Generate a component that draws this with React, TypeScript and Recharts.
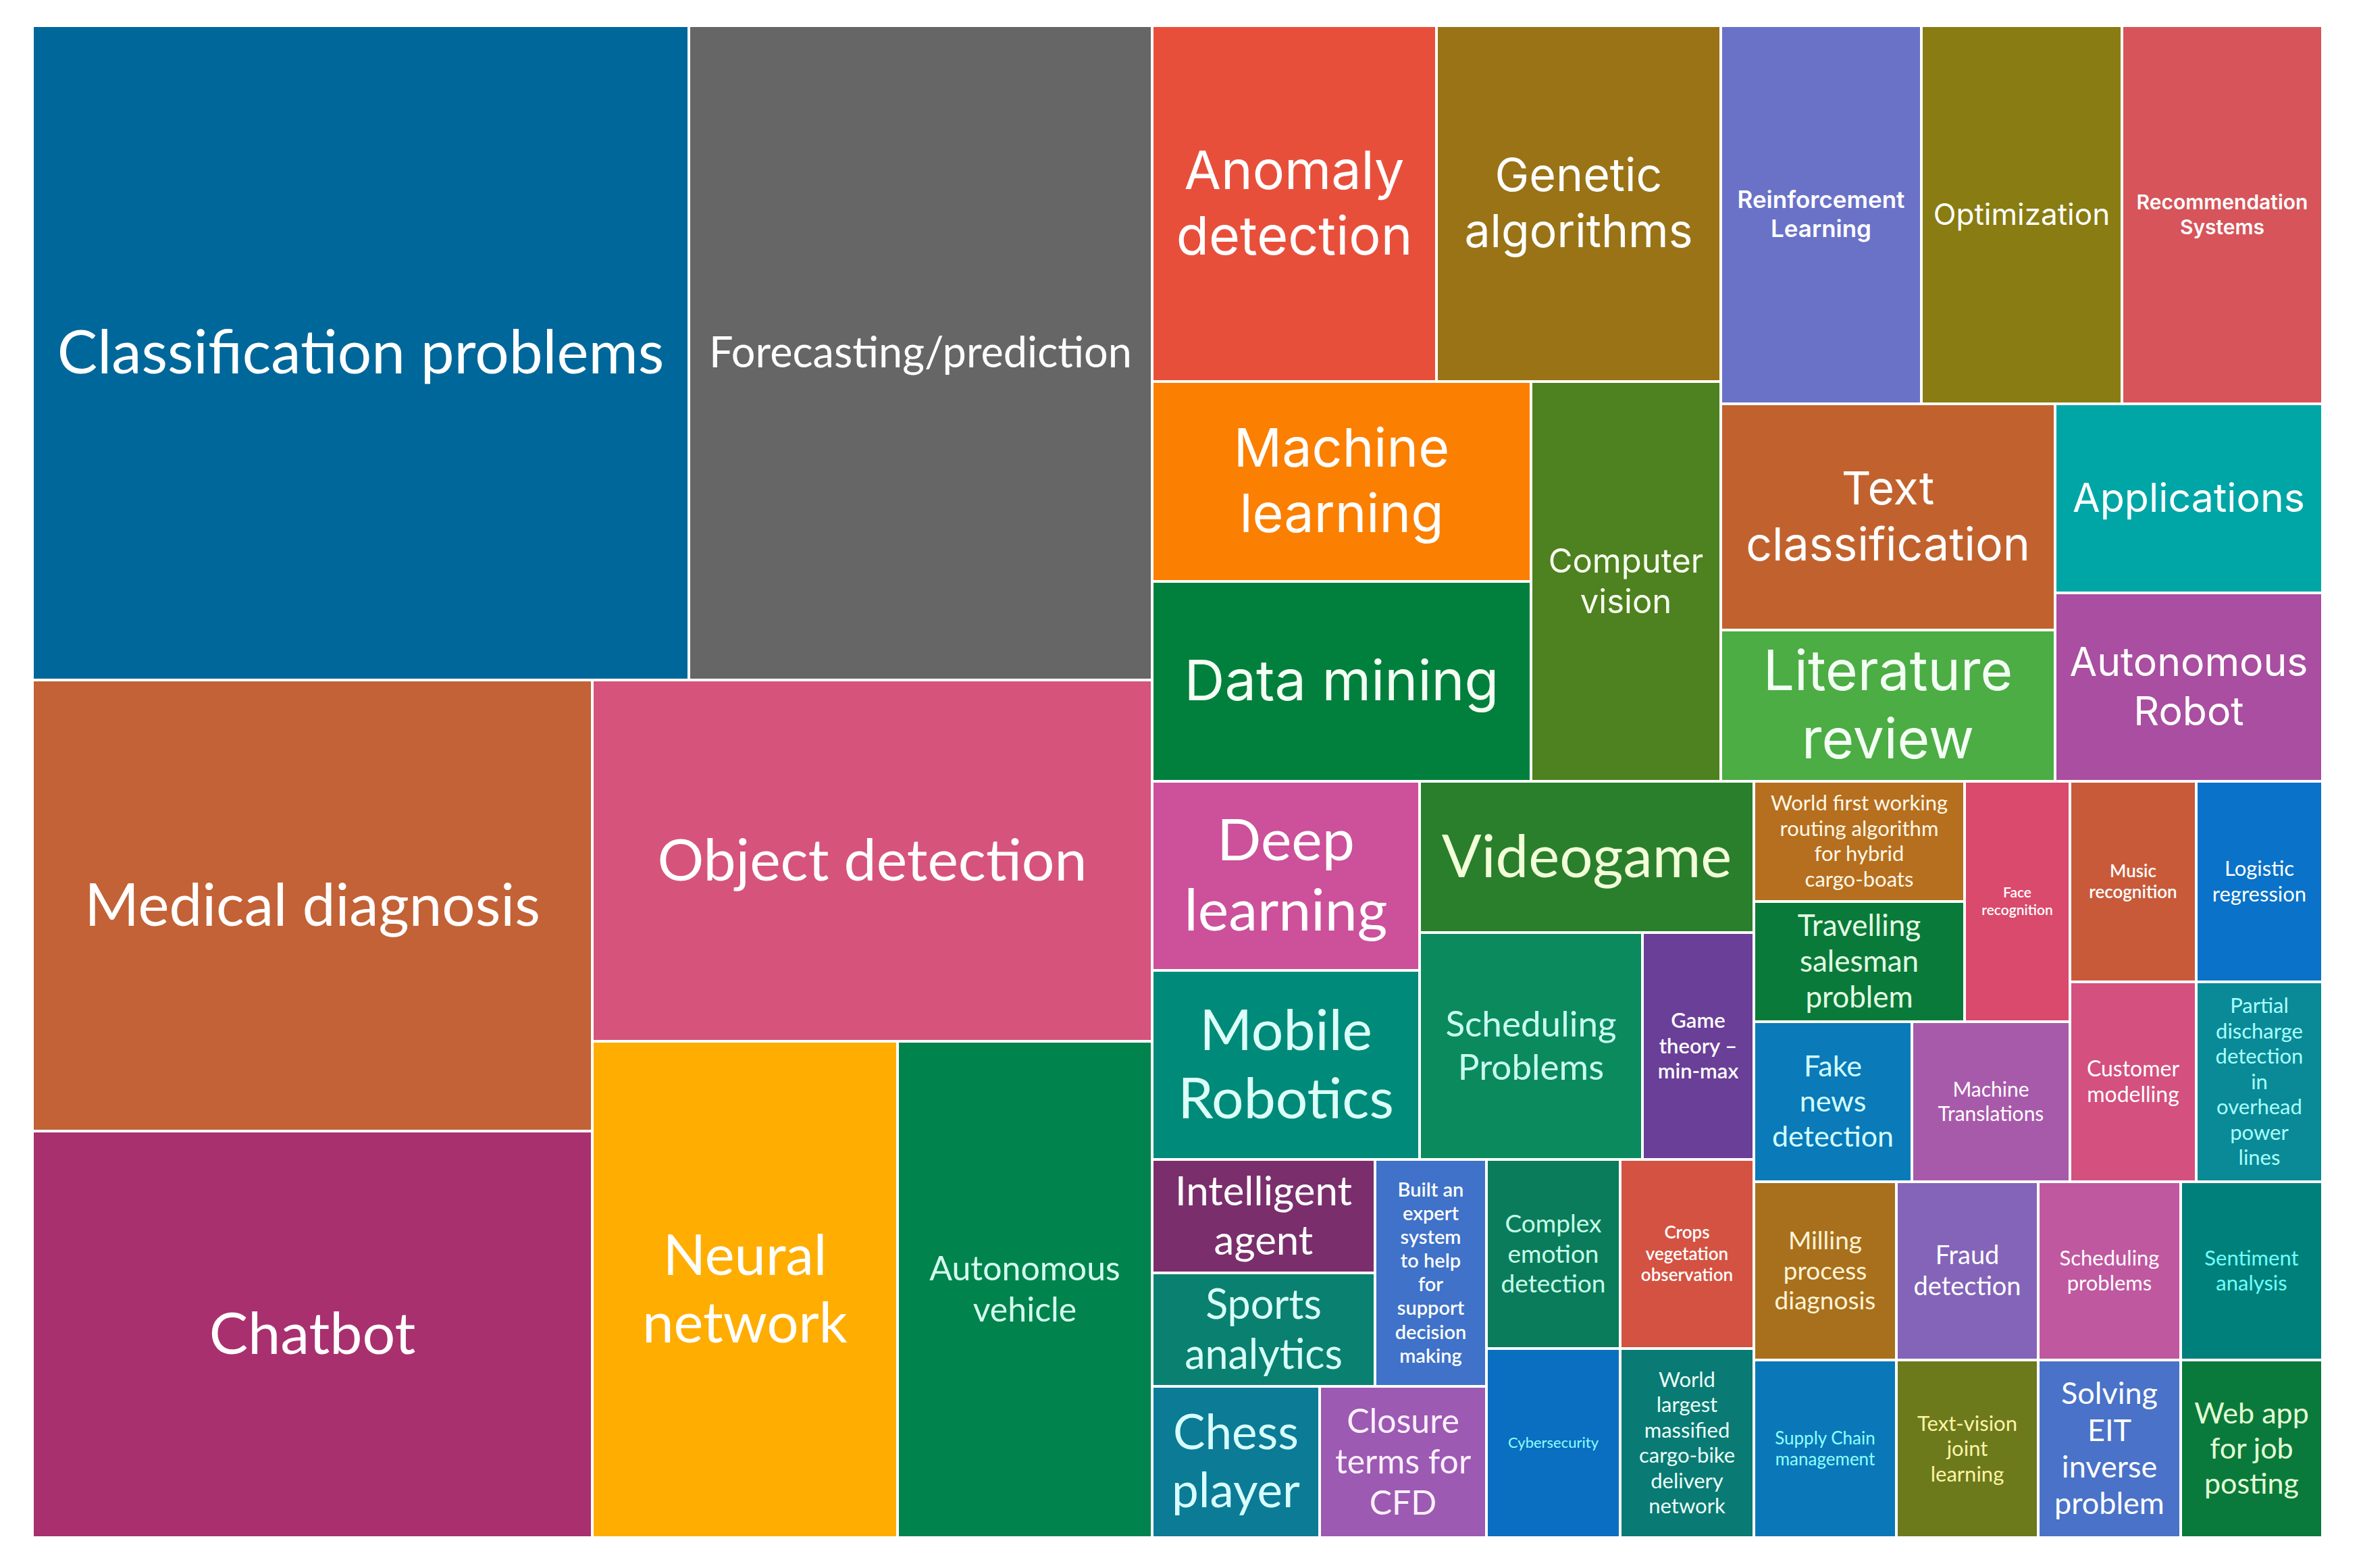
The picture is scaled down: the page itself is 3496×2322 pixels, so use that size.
import React from "react";
import { Treemap } from "recharts";

// research topics, in the order the binary layout places them
const topics = [
  "Classification problems",
  "Forecasting/prediction",
  "Medical diagnosis",
  "Chatbot",
  "Object detection",
  "Neural network",
  "Autonomous vehicle",
  "Anomaly detection",
  "Genetic algorithms",
  "Machine learning",
  "Data mining",
  "Computer vision",
  "Reinforcement Learning",
  "Optimization",
  "Recommendation Systems",
  "Text classification",
  "Literature review",
  "Applications",
  "Autonomous Robot",
  "Deep learning",
  "Mobile Robotics",
  "Videogame",
  "Scheduling Problems",
  "Game theory – min-max",
  "Intelligent agent",
  "Sports analytics",
  "Built an expert system to help for support decision making",
  "Chess player",
  "Closure terms for CFD",
  "Complex emotion detection",
  "Crops vegetation observation",
  "Cybersecurity",
  "World largest massified cargo-bike delivery network",
  "World first working routing algorithm for hybrid cargo-boats",
  "Travelling salesman problem",
  "Face recognition",
  "Fake news detection",
  "Machine Translations",
  "Music recognition",
  "Logistic regression",
  "Customer modelling",
  "Partial discharge detection in overhead power lines",
  "Milling process diagnosis",
  "Fraud detection",
  "Supply Chain management",
  "Text-vision joint learning",
  "Scheduling problems",
  "Sentiment analysis",
  "Solving EIT inverse problem",
  "Web app for job posting",
];

const counts = [
  17, 12, 10, 9, 8, 6, 5, 4, 4, 3, 3, 3, 3, 3, 3, 3, 2, 2, 2, 2, 2, 2, 2,
  1, 1, 1, 1, 1, 1, 1, 1, 1, 1, 1, 1, 1, 1, 1, 1, 1, 1, 1, 1, 1, 1, 1, 1, 1, 1, 1,
];

// how each label wraps inside its cell
const labelLines = [
  ["Classification problems"],
  ["Forecasting/prediction"],
  ["Medical diagnosis"],
  ["Chatbot"],
  ["Object detection"],
  ["Neural", "network"],
  ["Autonomous", "vehicle"],
  ["Anomaly", "detection"],
  ["Genetic", "algorithms"],
  ["Machine", "learning"],
  ["Data mining"],
  ["Computer", "vision"],
  ["Reinforcement", "Learning"],
  ["Optimization"],
  ["Recommendation", "Systems"],
  ["Text", "classification"],
  ["Literature", "review"],
  ["Applications"],
  ["Autonomous", "Robot"],
  ["Deep", "learning"],
  ["Mobile", "Robotics"],
  ["Videogame"],
  ["Scheduling", "Problems"],
  ["Game", "theory –", "min-max"],
  ["Intelligent", "agent"],
  ["Sports", "analytics"],
  ["Built an", "expert", "system", "to help", "for", "support", "decision", "making"],
  ["Chess", "player"],
  ["Closure", "terms for", "CFD"],
  ["Complex", "emotion", "detection"],
  ["Crops", "vegetation", "observation"],
  ["Cybersecurity"],
  ["World", "largest", "massified", "cargo-bike", "delivery", "network"],
  ["World first working", "routing algorithm", "for hybrid", "cargo-boats"],
  ["Travelling", "salesman", "problem"],
  ["Face", "recognition"],
  ["Fake", "news", "detection"],
  ["Machine", "Translations"],
  ["Music", "recognition"],
  ["Logistic", "regression"],
  ["Customer", "modelling"],
  ["Partial", "discharge", "detection", "in", "overhead", "power", "lines"],
  ["Milling", "process", "diagnosis"],
  ["Fraud", "detection"],
  ["Supply Chain", "management"],
  ["Text-vision", "joint", "learning"],
  ["Scheduling", "problems"],
  ["Sentiment", "analysis"],
  ["Solving", "EIT", "inverse", "problem"],
  ["Web app", "for job", "posting"],
];

// fill, label colour, label size
const cellStyle: Record<string, [string, string, number]> = {
  "Classification problems": ["#00679a", "#ffffff", 89],
  "Forecasting/prediction": ["#666666", "#ffffff", 63],
  "Medical diagnosis": ["#c26236", "#ffffff", 87],
  Chatbot: ["#a8306e", "#ffffff", 86],
  "Object detection": ["#d6537c", "#ffffff", 86],
  "Neural network": ["#ffad00", "#ffffff", 83],
  "Autonomous vehicle": ["#00834c", "#d4fff0", 50],
  "Anomaly detection": ["#e84f3b", "#ffffff", 79],
  "Genetic algorithms": ["#997316", "#ffffff", 68],
  "Machine learning": ["#fb7f00", "#ffffff", 79],
  "Data mining": ["#00803c", "#f4fff4", 83],
  "Computer vision": ["#4e811f", "#f8fff0", 49],
  "Reinforcement Learning": ["#6a72c8", "#ffffff", 35],
  Optimization: ["#887c12", "#ffffff", 44],
  "Recommendation Systems": ["#d6545a", "#ffffff", 30],
  "Text classification": ["#c1622e", "#ffffff", 68],
  "Literature review": ["#4bad44", "#f4fff4", 82],
  Applications: ["#00a6a6", "#ffffff", 59],
  "Autonomous Robot": ["#a94ea0", "#ffffff", 59],
  "Deep learning": ["#cc509a", "#ffffff", 86],
  "Mobile Robotics": ["#008a7a", "#dcfff8", 84],
  Videogame: ["#2a7f2c", "#f2ffd8", 87],
  "Scheduling Problems": ["#0b8a5e", "#c8fff0", 53],
  "Game theory – min-max": ["#6a3f98", "#ffffff", 31],
  "Intelligent agent": ["#7a2e6c", "#ffffff", 60],
  "Sports analytics": ["#0a8070", "#d8fff8", 61],
  "Built an expert system to help for support decision making": ["#3f72c8", "#ffffff", 29],
  "Chess player": ["#0b7b96", "#d8ffff", 71],
  "Closure terms for CFD": ["#9c5ab2", "#fff0ff", 50],
  "Complex emotion detection": ["#0a7c5c", "#c8ffe8", 37],
  "Crops vegetation observation": ["#d45242", "#ffffff", 26],
  Cybersecurity: ["#0a6fc0", "#90ffff", 22],
  "World largest massified cargo-bike delivery network": ["#0a7a74", "#ecfff8", 31],
  "World first working routing algorithm for hybrid cargo-boats": ["#b56f1f", "#fff8e8", 31],
  "Travelling salesman problem": ["#0a7a3a", "#e4ffe4", 44],
  "Face recognition": ["#d94a6c", "#ffffff", 21],
  "Fake news detection": ["#0a7ab8", "#d4ffff", 43],
  "Machine Translations": ["#a85aaa", "#ffffff", 30],
  "Music recognition": ["#c85a3a", "#ffffff", 26],
  "Logistic regression": ["#0a72c8", "#ffffff", 31],
  "Customer modelling": ["#d4507e", "#ffffff", 32],
  "Partial discharge detection in overhead power lines": ["#0a8a96", "#aaffff", 31],
  "Milling process diagnosis": ["#a8701c", "#fff4d8", 37],
  "Fraud detection": ["#8464b8", "#ffffff", 38],
  "Supply Chain management": ["#0a78b8", "#90ffff", 26],
  "Text-vision joint learning": ["#6c7a1c", "#fff4a8", 31],
  "Scheduling problems": ["#c058a0", "#ffffff", 31],
  "Sentiment analysis": ["#00807a", "#70ffff", 31],
  "Solving EIT inverse problem": ["#4a72c8", "#ffffff", 45],
  "Web app for job posting": ["#0a7a3c", "#e4ffd4", 43],
};

const wideFont = new Set([
  "Anomaly detection",
  "Genetic algorithms",
  "Machine learning",
  "Data mining",
  "Computer vision",
  "Reinforcement Learning",
  "Optimization",
  "Recommendation Systems",
  "Text classification",
  "Literature review",
  "Applications",
  "Autonomous Robot",
]);

const boldLabel = new Set([
  "Reinforcement Learning",
  "Recommendation Systems",
  "Game theory – min-max",
  "Built an expert system to help for support decision making",
  "Crops vegetation observation",
  "Face recognition",
  "Music recognition",
]);

type Node = {
  name: string;
  value?: number;
  lines?: string[];
  children?: Node[];
};

// split a value-sorted list in two halves by value (same rule as d3 treemapBinary)
let groupId = 0;
function binaryNest(items: Node[]): Node {
  if (items.length === 1) return items[0];
  const sums = [0];
  items.forEach((it, i) => sums.push(sums[i] + (it.value || 0)));
  const n = items.length;
  const target = sums[n] / 2;
  let k = 1;
  let hi = n - 1;
  while (k < hi) {
    const mid = (k + hi) >>> 1;
    if (sums[mid] < target) k = mid + 1;
    else hi = mid;
  }
  if (target - sums[k - 1] < sums[k] - target && 1 < k) k--;
  groupId += 1;
  return {
    name: `group-${groupId}`,
    children: [binaryNest(items.slice(0, k)), binaryNest(items.slice(k))],
  };
}

const leaves: Node[] = topics.map((name, i) => ({
  name,
  value: counts[i],
  lines: labelLines[i],
}));
const treeData = [binaryNest(leaves)];

function Cell(props: any) {
  const { x, y, width, height, name, lines, children } = props;
  if (children && children.length) return null;
  if (!lines) return null;
  const [fill, textColor, fontSize] = cellStyle[name] || ["#888", "#fff", 30];
  const wide = wideFont.has(name);
  const lh = fontSize * (wide ? 1.23 : 1.21);
  const cx = x + width / 2;
  const cy = y + height / 2;
  const first = cy - ((lines.length - 1) * lh) / 2 + fontSize * 0.34;
  return (
    <g>
      <rect x={x} y={y} width={width} height={height} fill={fill} stroke="#ffffff" strokeWidth={4} />
      <text
        x={cx}
        textAnchor="middle"
        fill={textColor}
        fontSize={fontSize}
        fontFamily={wide ? "Inter, 'Open Sans', sans-serif" : "Lato, sans-serif"}
        fontWeight={boldLabel.has(name) ? 600 : 400}
      >
        {lines.map((line: string, i: number) => (
          <tspan key={i} x={cx} y={first + i * lh}>
            {line}
          </tspan>
        ))}
      </text>
    </g>
  );
}

export default function App() {
  return (
    <div style={{ position: "absolute", left: 48, top: 38, background: "#fff" }}>
      <Treemap
        width={3391}
        height={2239}
        data={treeData}
        dataKey="value"
        nameKey="name"
        aspectRatio={0.000001}
        isAnimationActive={false}
        content={(p: any) => <Cell {...p} />}
      />
    </div>
  );
}
